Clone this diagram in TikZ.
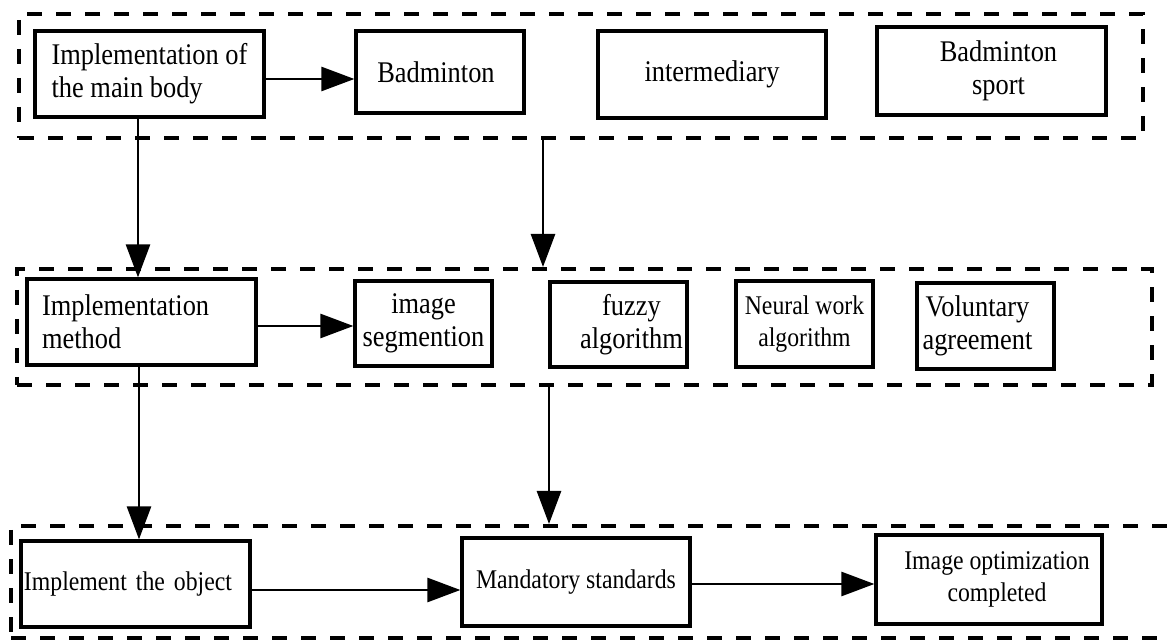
\documentclass[tikz,border=0pt]{standalone}
\usepackage{fontspec}
\setmainfont{Liberation Serif}[FakeStretch=0.88]
\usetikzlibrary{arrows.meta}
\newcommand\fbig{\fontsize{15pt}{16.5pt}\selectfont}
\newcommand\fsmall{\fontsize{13.5pt}{16pt}\selectfont}
\tikzset{
  box/.style={draw, line width=1.6pt, inner sep=0pt, align=center, font=\fbig},
  smallbox/.style={box, font=\fsmall},
  frame/.style={draw, line width=2pt, dash pattern=on 7.5pt off 7pt, inner sep=0pt},
  arr/.style={line width=1.3pt, -{Triangle[length=16.5pt,width=12pt]}}
}
\begin{document}
\begin{tikzpicture}[x=0.5pt,y=-0.5pt]
\clip (0,0) rectangle (1167,640);
\fill[white] (0,0) rectangle (1167,640);
% frames
\node[frame, minimum width=562pt, minimum height=62pt] (f1) at (581,76) {};
\node[frame, minimum width=567.5pt, minimum height=58pt] (f2) at (584.5,327) {};
\node[frame, minimum width=594.5pt, minimum height=56pt] (f3) at (605.5,582) {};
% top row
\node[box, minimum width=114.5pt, minimum height=43pt, align=left] (b1) at (149.5,74) {Implementation of\\the main body};
\node[box, minimum width=84pt, minimum height=41pt] (b2) at (440,72) {Badminton\hspace*{4pt}};
\node[box, minimum width=114pt, minimum height=43.5pt] (b3) at (712,74.5) {intermediary};
\node[box, minimum width=114.5pt, minimum height=44pt] (b4) at (991.5,71) {\hspace*{7pt}Badminton\\\hspace*{7pt}sport};
% middle row
\node[box, minimum width=114.5pt, minimum height=43pt, text width=99.5pt, align=left] (b5) at (141.5,322) {Implementation\\method};
\node[box, minimum width=68.5pt, minimum height=42.5pt] (b6) at (423.5,323.5) {image\\segmention};
\node[box, minimum width=68.5pt, minimum height=42.5pt] (b7) at (618.5,324.5) {\hspace*{13pt}fuzzy\\\hspace*{13pt}algorithm};
\node[smallbox, minimum width=68.5pt, minimum height=43pt] (b8) at (804.5,324) {Neural work\\algorithm};
\node[box, minimum width=68.5pt, minimum height=43pt] (b9) at (985.5,326) {Voluntary\hspace*{8pt}\\agreement\hspace*{8pt}};
% bottom row
\node[smallbox, minimum width=114.5pt, minimum height=43pt, text width=111.5pt, align=left] (b10) at (135.5,584) {Implement the object};
\node[smallbox, minimum width=114pt, minimum height=44pt] (b11) at (576,582) {Mandatory standards};
\node[smallbox, minimum width=113pt, minimum height=44.5pt] (b12) at (989,579.5) {\hspace*{8pt}Image optimization\\\hspace*{8pt}completed};
% helper coordinates
\coordinate (ya) at (0,79);
\coordinate (yb) at (0,326);
\coordinate (yc) at (0,590);
\coordinate (yd) at (0,584);
\coordinate (xa) at (138,0);
\coordinate (xb) at (543,0);
\coordinate (xc) at (139,0);
\coordinate (xd) at (549,0);
% connectors
\draw[arr] (b1.east |- ya) -- (b2.west |- ya);
\draw[arr] (b5.east |- yb) -- (b6.west |- yb);
\draw[arr] (b10.east |- yc) -- (b11.west |- yc);
\draw[arr] (b11.east |- yd) -- (b12.west |- yd);
\draw[arr] (b1.south -| xa) -- (b5.north -| xa);
\draw[arr] (f1.south -| xb) -- (f2.north -| xb);
\draw[arr] (b5.south -| xc) -- (b10.north -| xc);
\draw[arr] (f2.south -| xd) -- (f3.north -| xd);
\end{tikzpicture}
\end{document}
